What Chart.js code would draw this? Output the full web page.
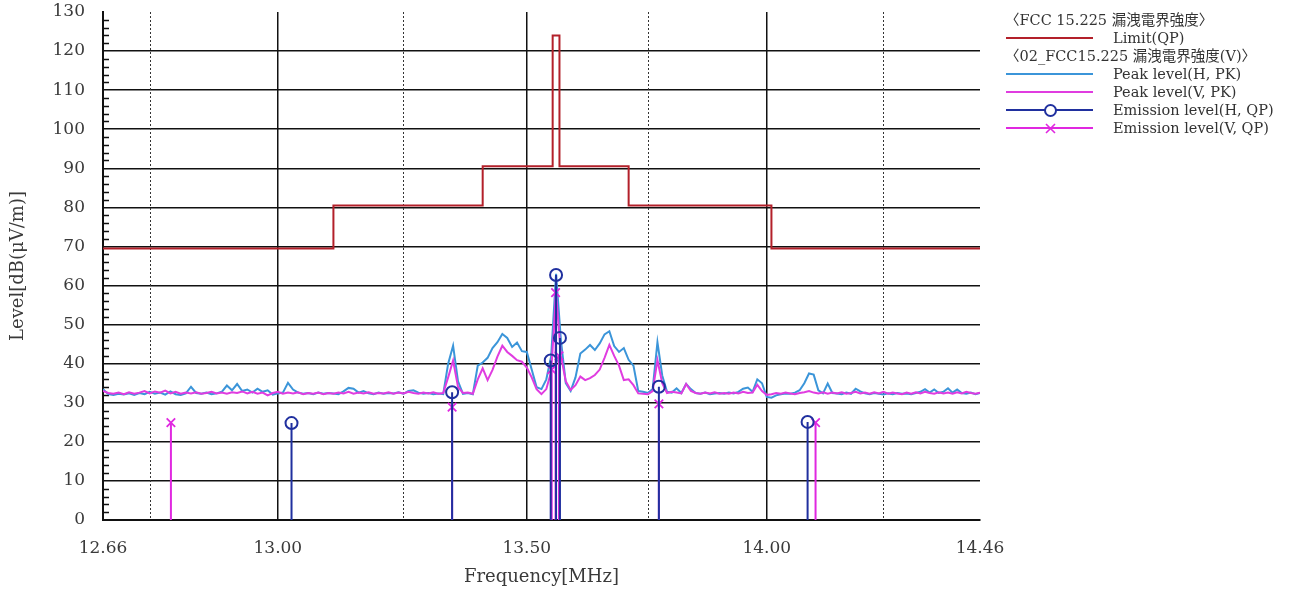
<!DOCTYPE html>
<html>
<head>
<meta charset="utf-8">
<script src="https://cdn.jsdelivr.net/npm/chart.js@4/dist/chart.umd.min.js"></script>
<style>
    body { margin: 0; background: #fff; }
    #wrap { position: relative; width: 1290px; height: 593px; }
    #legend { position: absolute; left: 1000px; top: 11px; font: 14.5px 'DejaVu Serif', 'Noto Sans CJK JP', serif; color: #333; }
    #legend .row { position: relative; height: 18px; line-height: 18px; white-space: nowrap; }
    #legend .head { padding-left: 5px; }
    #legend .swatch { position: absolute; left: 6px; top: 8px; width: 87px; height: 2px; }
    #legend .lbl { position: absolute; left: 113px; top: 0; }
    #legend svg { position: absolute; left: 43px; top: 2px; }
</style>
</head>
<body>
<div id="wrap">
    <canvas id="emiChart"></canvas>
    <div id="legend"></div>
</div>
<script>
// FCC 15.225 limit (QP), step segments
const limitFreqs = [12.66, 13.11, 13.11, 13.41, 13.41, 13.553, 13.553, 13.567, 13.567, 13.71, 13.71, 14.01, 14.01, 14.46];
const limitLevels = [69.5, 69.5, 80.5, 80.5, 90.5, 90.5, 124.0, 124.0, 90.5, 90.5, 80.5, 80.5, 69.5, 69.5];

// sweep frequencies [MHz]
const freqs = [
    12.66, 12.67, 12.68, 12.69, 12.70, 12.71, 12.72, 12.73, 12.74, 12.75,
    12.76, 12.77, 12.78, 12.79, 12.80, 12.81, 12.82, 12.83, 12.84, 12.85,
    12.86, 12.87, 12.88, 12.89, 12.90, 12.91, 12.92, 12.93, 12.94, 12.95,
    12.96, 12.97, 12.98, 12.99, 13.00, 13.01, 13.02, 13.03, 13.04, 13.05,
    13.06, 13.07, 13.08, 13.09, 13.10, 13.11, 13.12, 13.13, 13.14, 13.15,
    13.16, 13.17, 13.18, 13.19, 13.20, 13.21, 13.22, 13.23, 13.24, 13.25,
    13.26, 13.27, 13.28, 13.29, 13.30, 13.31, 13.32, 13.33, 13.34, 13.35,
    13.36, 13.37, 13.38, 13.39, 13.40, 13.41, 13.42, 13.43, 13.44, 13.45,
    13.46, 13.47, 13.48, 13.49, 13.50, 13.51, 13.52, 13.53, 13.54, 13.55,
    13.56, 13.57, 13.58, 13.59, 13.60, 13.61, 13.62, 13.63, 13.64, 13.65,
    13.66, 13.67, 13.68, 13.69, 13.70, 13.71, 13.72, 13.73, 13.74, 13.75,
    13.76, 13.77, 13.78, 13.79, 13.80, 13.81, 13.82, 13.83, 13.84, 13.85,
    13.86, 13.87, 13.88, 13.89, 13.90, 13.91, 13.92, 13.93, 13.94, 13.95,
    13.96, 13.97, 13.98, 13.99, 14.00, 14.01, 14.02, 14.03, 14.04, 14.05,
    14.06, 14.07, 14.08, 14.09, 14.10, 14.11, 14.12, 14.13, 14.14, 14.15,
    14.16, 14.17, 14.18, 14.19, 14.20, 14.21, 14.22, 14.23, 14.24, 14.25,
    14.26, 14.27, 14.28, 14.29, 14.30, 14.31, 14.32, 14.33, 14.34, 14.35,
    14.36, 14.37, 14.38, 14.39, 14.40, 14.41, 14.42, 14.43, 14.44, 14.45,
    14.46
];

// peak level, horizontal antenna [dB(uV/m)]
const peakH = [
    33.5, 32.2, 32.0, 32.3, 32.1, 32.4, 32.0, 32.5, 32.2, 32.8,
    32.3, 32.6, 32.1, 32.9, 32.2, 32.0, 32.4, 34.1, 32.5, 32.3,
    32.6, 32.2, 32.4, 32.8, 34.4, 33.2, 34.8, 33.0, 33.4, 32.6,
    33.6, 32.8, 33.2, 32.1, 32.4, 32.6, 35.1, 33.4, 32.6, 32.3,
    32.5, 32.2, 32.6, 32.3, 32.5, 32.4, 32.2, 32.9, 33.8, 33.6,
    32.6, 33.0, 32.4, 32.2, 32.6, 32.3, 32.5, 32.4, 32.7, 32.3,
    33.0, 33.2, 32.6, 32.3, 32.5, 32.2, 32.4, 32.2, 40.0, 44.6,
    35.5, 32.3, 32.5, 32.2, 39.5, 40.3, 41.5, 44.0, 45.5, 47.6,
    46.6, 44.3, 45.4, 43.2, 43.0, 38.5, 34.0, 33.5, 36.0, 42.0,
    63.0, 46.0, 35.0, 33.0, 36.5, 42.6, 43.6, 44.8, 43.5, 45.2,
    47.5, 48.3, 44.5, 43.0, 44.0, 41.0, 39.5, 33.0, 32.8, 32.5,
    33.5, 45.5, 37.0, 32.8, 32.6, 33.7, 32.5, 34.8, 33.5, 32.5,
    32.3, 32.6, 32.2, 32.4, 32.5, 32.3, 32.6, 32.4, 32.8, 33.6,
    33.9, 32.8, 36.0, 35.0, 31.5, 31.3, 31.9, 32.2, 32.4, 32.3,
    32.6, 33.2, 35.0, 37.5, 37.2, 33.2, 32.4, 34.9, 32.5, 32.4,
    32.2, 32.6, 32.3, 33.6, 32.9, 32.4, 32.2, 32.5, 32.3, 32.1,
    32.4, 32.2, 32.5, 32.3, 32.4, 32.2, 32.5, 32.8, 33.5, 32.6,
    33.4, 32.5, 32.8, 33.7, 32.6, 33.4, 32.5, 32.3, 32.6, 32.2,
    32.5
];

// peak level, vertical antenna [dB(uV/m)]
const peakV = [
    33.0, 32.5, 32.3, 32.6, 32.2, 32.7, 32.3, 32.6, 33.0, 32.4,
    32.9, 32.6, 33.1, 32.4, 32.8, 32.3, 32.6, 32.4, 32.7, 32.3,
    32.5, 32.8, 32.4, 32.6, 32.3, 32.7, 32.5, 32.9, 32.4, 32.8,
    32.3, 32.6, 31.9, 32.5, 32.8, 32.3, 32.6, 32.4, 32.7, 32.2,
    32.5, 32.3, 32.6, 32.2, 32.5, 32.3, 32.6, 32.4, 32.8, 32.3,
    32.6, 32.4, 32.7, 32.3, 32.5, 32.4, 32.7, 32.3, 32.6, 32.4,
    32.8, 32.5, 32.3, 32.6, 32.4, 32.7, 32.3, 32.5, 36.5, 40.8,
    34.0, 32.5, 32.6, 32.3, 36.0, 38.8, 35.8, 38.4, 41.8, 44.6,
    43.0, 42.0, 40.9, 40.5, 39.0, 36.5, 33.5, 32.2, 33.5, 38.0,
    58.0, 42.0, 35.5, 33.3, 34.5, 36.7, 35.8, 36.3, 37.1, 38.5,
    41.5, 44.8, 42.0, 39.5, 35.8, 36.0, 34.5, 32.4, 32.3, 32.2,
    33.0, 40.9, 35.0, 32.5, 32.8, 32.6, 32.4, 34.8, 33.0, 32.5,
    32.3, 32.6, 32.4, 32.7, 32.3, 32.5, 32.3, 32.6, 32.4, 32.8,
    32.5, 32.6, 34.6, 33.0, 32.0, 32.2, 32.5, 32.3, 32.6, 32.4,
    32.2, 32.5, 32.7, 33.0, 32.6, 32.4, 32.7, 32.3, 32.6, 32.4,
    32.7, 32.3, 32.5, 32.8, 32.4, 32.6, 32.3, 32.7, 32.4, 32.8,
    32.3, 32.6, 32.4, 32.2, 32.6, 32.3, 32.7, 32.4, 32.8, 32.5,
    32.3, 32.7, 32.4, 32.6, 32.3, 32.7, 32.4, 32.8, 32.5, 32.3,
    32.6
];

// QP emission readings: frequency [MHz] and level
const emissionHFreqs = [13.027, 13.348, 13.549, 13.560, 13.568, 13.773, 14.087];
const emissionHLevels = [24.8, 32.7, 40.8, 62.7, 46.6, 34.1, 25.1];
const emissionVFreqs = [12.791, 13.348, 13.551, 13.559, 13.566, 13.773, 14.104];
const emissionVLevels = [24.9, 28.9, 38.5, 58.2, 42.0, 29.7, 24.9];

const xTickValues = [12.66, 13.00, 13.50, 14.00, 14.46];
const xDottedValues = [12.75, 13.25, 13.75, 14.25];
const yMax = 130;

const legendHeads = ['〈FCC 15.225 漏洩電界強度〉', '〈02_FCC15.225 漏洩電界強度(V)〉'];

const C_LIMIT = '#b3202a';
const C_PK_H = '#3b95d9';
const C_PK_V = '#e03ce0';
const C_QP_H = '#20309f';
const C_QP_V = '#e028e0';

function pairs(xs, ys) {
    return xs.map((x, i) => ({ x: x, y: ys[i] }));
}

// each reading becomes a vertical stem from 0 up to its level, separated by a gap
function stems(xs, ys) {
    const out = [];
    xs.forEach((x, i) => { out.push({ x: x, y: 0 }, { x: x, y: ys[i] }, { x: x, y: null }); });
    return out;
}

const topPoint = ctx => (ctx.raw && ctx.raw.y > 0) ? 6 : 0;

const gridExtras = {
    id: 'gridExtras',
    beforeDatasetsDraw(chart) {
        const { ctx, chartArea: a, scales: { x, y } } = chart;
        ctx.save();
        ctx.strokeStyle = '#333';
        ctx.lineWidth = 1;
        ctx.setLineDash([2, 2]);
        xDottedValues.forEach(f => {
            const px = Math.round(x.getPixelForValue(f)) + 0.5;
            ctx.beginPath(); ctx.moveTo(px, a.top); ctx.lineTo(px, a.bottom); ctx.stroke();
        });
        // small ticks on the left edge every 2 dB
        ctx.setLineDash([]);
        ctx.strokeStyle = '#111';
        ctx.lineWidth = 1.5;
        ctx.beginPath();
        for (let v = 2; v < yMax; v += 2) {
            if (v % 10 === 0) continue;
            const py = Math.round(y.getPixelForValue(v)) + 0.5;
            ctx.moveTo(a.left, py); ctx.lineTo(a.left + 6, py);
        }
        ctx.stroke();
        ctx.restore();
    }
};

Chart.defaults.font.family = "'DejaVu Serif', serif";
Chart.defaults.color = '#3a3a3a';

new Chart(document.getElementById('emiChart'), {
    type: 'line',
    data: {
        datasets: [
            { label: 'Limit(QP)', data: pairs(limitFreqs, limitLevels), borderColor: C_LIMIT, borderWidth: 2, pointRadius: 0 },
            { label: 'Emission level(H, QP)', data: stems(emissionHFreqs, emissionHLevels), borderColor: C_QP_H, borderWidth: 2,
              pointStyle: 'circle', pointRadius: topPoint, pointBorderWidth: 2, pointBorderColor: C_QP_H, pointBackgroundColor: 'rgba(0,0,0,0)' },
            { label: 'Emission level(V, QP)', data: stems(emissionVFreqs, emissionVLevels), borderColor: C_QP_V, borderWidth: 2,
              pointStyle: 'crossRot', pointRadius: topPoint, pointBorderWidth: 1.8, pointBorderColor: C_QP_V },
            { label: 'Peak level(V, PK)', data: pairs(freqs, peakV), borderColor: C_PK_V, borderWidth: 2, pointRadius: 0 },
            { label: 'Peak level(H, PK)', data: pairs(freqs, peakH), borderColor: C_PK_H, borderWidth: 2, pointRadius: 0 }
        ]
    },
    options: {
        responsive: true,
        maintainAspectRatio: false,
        animation: false,
        layout: { padding: { top: 12, right: 310, left: 0, bottom: 0 } },
        plugins: { legend: { display: false }, tooltip: { enabled: false } },
        elements: { line: { tension: 0 } },
        scales: {
            x: {
                type: 'logarithmic',
                min: 12.66,
                max: 14.46,
                afterBuildTicks: s => { s.ticks = xTickValues.map(v => ({ value: v })); },
                afterFit: s => { s.height = 73; s.paddingLeft = 0; s.paddingRight = 0; },
                ticks: { autoSkip: false, maxRotation: 0, padding: 18, font: { size: 17 }, callback: v => Number(v).toFixed(2) },
                grid: { drawTicks: false, lineWidth: 1.5, color: c => (c.tick && (c.tick.value === 12.66 || c.tick.value === 14.46)) ? 'rgba(0,0,0,0)' : '#111' },
                border: { display: true, color: '#111', width: 2 },
                title: { display: true, text: 'Frequency[MHz]', font: { size: 18 }, padding: { top: 0, bottom: 5 } }
            },
            y: {
                min: 0,
                max: yMax,
                afterFit: s => { s.width = 103; s.paddingTop = 0; s.paddingBottom = 0; },
                ticks: { stepSize: 10, padding: 18, font: { size: 17 } },
                grid: { drawTicks: false, lineWidth: 1.5, color: c => (c.tick && (c.tick.value === 0 || c.tick.value === yMax)) ? 'rgba(0,0,0,0)' : '#111' },
                border: { display: true, color: '#111', width: 2 },
                title: { display: true, text: 'Level[dB(μV/m)]', font: { size: 18 }, padding: { top: 8, bottom: 0 } }
            }
        }
    },
    plugins: [gridExtras]
});

// legend block on the right
function buildLegend() {
    const rows = [
        { head: legendHeads[0] },
        { label: 'Limit(QP)', color: C_LIMIT },
        { head: legendHeads[1] },
        { label: 'Peak level(H, PK)', color: C_PK_H },
        { label: 'Peak level(V, PK)', color: C_PK_V },
        { label: 'Emission level(H, QP)', color: C_QP_H, mark: 'circle' },
        { label: 'Emission level(V, QP)', color: C_QP_V, mark: 'cross' }
    ];
    document.getElementById('legend').innerHTML = rows.map(r => {
        if (r.head) return `<div class="row head">${r.head}</div>`;
        let mark = '';
        if (r.mark === 'circle') mark = `<svg width="15" height="15"><circle cx="7.5" cy="7.5" r="5.5" fill="#fff" stroke="${r.color}" stroke-width="2"/></svg>`;
        if (r.mark === 'cross') mark = `<svg width="15" height="15"><path d="M3 3L12 12M12 3L3 12" stroke="${r.color}" stroke-width="1.6"/></svg>`;
        return `<div class="row"><span class="swatch" style="background:${r.color}"></span>${mark}<span class="lbl">${r.label}</span></div>`;
    }).join('');
}

buildLegend();
</script>
</body>
</html>
